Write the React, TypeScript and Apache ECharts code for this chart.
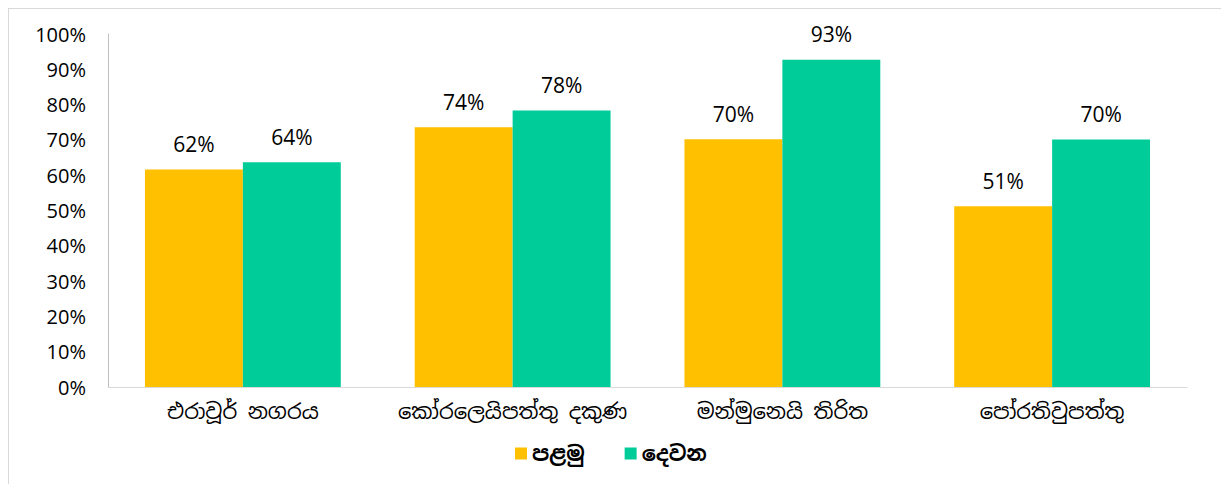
import React, { useEffect, useRef } from "react";
import * as echarts from "echarts";

const categories = ["එරාවූර් නගරය", "කෝරලෙයිපත්තු දකුණ", "මන්මුනෙයි තිරිත", "පෝරතිවුපත්තු"];
const seriesNames = ["පළමු", "දෙවන"];
const firstValues = [61.6, 73.6, 70.2, 51.2];
const secondValues = [63.7, 78.3, 92.7, 70.1];
const yTicks = [0, 10, 20, 30, 40, 50, 60, 70, 80, 90, 100];

const FONT = "'Open Sans', 'Noto Sans Sinhala', 'Noto Sans', sans-serif";
const SINHALA = "'Noto Sans Sinhala', 'Noto Serif Sinhala', 'Iskoola Pota', 'Noto Sans', sans-serif";

export default function App() {
  const ref = useRef<HTMLDivElement>(null);
  useEffect(() => {
    if (!ref.current) return;
    const chart = echarts.init(ref.current, undefined, { renderer: "svg" });
    const label = {
      show: true,
      position: "top" as const,
      distance: 15,
      fontFamily: FONT,
      fontSize: 21,
      color: "#000",
      formatter: (p: any) => Math.round(p.value) + "%",
    };
    chart.setOption({
      animation: false,
      grid: { left: 100, top: 26, width: 1079, height: 353 },
      legend: {
        data: seriesNames,
        left: 502,
        top: 430,
        itemWidth: 12,
        itemHeight: 12,
        itemGap: 40,
        icon: "rect",
        textStyle: { fontFamily: SINHALA, fontSize: 21, fontWeight: "bold", color: "#000" },
      },
      xAxis: {
        type: "category",
        data: categories,
        axisLine: { lineStyle: { color: "#d9d9d9", width: 1 } },
        axisTick: { show: false },
        axisLabel: { interval: 0, fontFamily: SINHALA, fontSize: 21, color: "#000", margin: 14 },
      },
      yAxis: {
        type: "value",
        min: 0,
        max: 100,
        interval: 10,
        axisLine: { show: true, lineStyle: { color: "#bfbfbf", width: 1 } },
        axisTick: { show: false },
        splitLine: { show: false },
        axisLabel: {
          fontFamily: FONT,
          fontSize: 20,
          color: "#000",
          margin: 22,
          formatter: (v: number) => (yTicks.includes(v) ? v + "%" : ""),
        },
      },
      series: [
        {
          name: seriesNames[0],
          type: "bar",
          data: firstValues,
          barWidth: "36.3%",
          barGap: "0%",
          itemStyle: { color: "#ffc000" },
          label,
        },
        {
          name: seriesNames[1],
          type: "bar",
          data: secondValues,
          barWidth: "36.3%",
          barGap: "0%",
          itemStyle: { color: "#00cc99" },
          label,
        },
      ],
    });
    return () => chart.dispose();
  }, []);
  return (
    <div
      style={{
        width: 1222,
        height: 480,
        margin: "-1px 0 0 -1px",
        border: "2px solid #d9d9d9",
        borderBottom: "none",
        boxSizing: "border-box",
        overflow: "hidden",
      }}
    >
      <div ref={ref} style={{ width: 1218, height: 478, marginLeft: -1, marginTop: -1 }} />
    </div>
  );
}
